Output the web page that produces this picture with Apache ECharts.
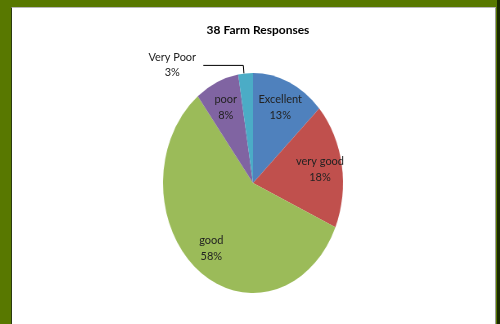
<!DOCTYPE html>
<html><head><meta charset="utf-8">
<script src="https://cdn.jsdelivr.net/npm/echarts@6/dist/echarts.min.js"></script>
<style>
html,body{margin:0;padding:0;width:500px;height:324px;overflow:hidden;background:#587800;}
#panel{position:absolute;left:11px;top:7px;width:483px;height:317px;background:#fff;border-left:1px solid #2a3a10;border-top:1px solid #b8b8b8;border-right:1px solid #9a9a9a;}
#edge{position:absolute;left:497px;top:0;width:3px;height:324px;background:#1a2a00;}
#pie{position:absolute;left:0;top:0;width:500px;height:324px;transform:scaleX(0.818);transform-origin:253px 0;}
#chart{position:absolute;left:0;top:0;width:500px;height:324px;}
</style></head>
<body>
<div id="panel"></div><div id="edge"></div>
<div id="pie"></div>
<div id="chart"></div>
<script>
const titleText = '38 Farm Responses';
const categories = ['Excellent', 'very good', 'good', 'poor', 'Very Poor'];
const counts = [5, 7, 22, 3, 1];
const colors = ['#4f81bd', '#c0504d', '#9bbb59', '#8064a2', '#4bacc6'];

const CX = 253, CY = 183, R = 110, SQUASH = 0.818;
const font = 'Lato, "Open Sans", sans-serif';

// slices (drawn in a horizontally squashed layer, the reference pie is an ellipse)
const pie = echarts.init(document.getElementById('pie'));
pie.setOption({
  animation: false,
  backgroundColor: 'transparent',
  series: [{
    type: 'pie', center: [CX, CY], radius: [0, R],
    startAngle: 90, clockwise: true, silent: true,
    label: {show: false}, labelLine: {show: false},
    data: categories.map((c, i) => ({name: c, value: counts[i], itemStyle: {color: colors[i]}}))
  }]
});

// title and labels (unsquashed text)
const chart = echarts.init(document.getElementById('chart'));
const fmt = p => p.name + '\n' + Math.round(p.percent) + '%';
chart.setOption({
  animation: false,
  backgroundColor: 'transparent',
  title: {
    text: titleText, left: CX, top: 19, textAlign: 'center',
    textStyle: {fontFamily: font, fontWeight: 'bold', fontSize: 12, color: '#000'}
  },
  series: [
    {
      type: 'pie', center: [CX, CY], radius: [0, R],
      startAngle: 90, clockwise: true, avoidLabelOverlap: false, silent: true,
      itemStyle: {color: 'rgba(0,0,0,0)'},
      data: categories.map((c, i) => ({
        name: c, value: counts[i],
        label: {show: i === 4}, labelLine: {show: i === 4}
      })),
      label: {
        position: 'outside',
        formatter: p => '{a|' + p.name + '}\n{a|' + Math.round(p.percent) + '%}',
        rich: {a: {fontFamily: font, fontSize: 11, color: '#222', width: 52, align: 'center', lineHeight: 15}}
      },
      labelLine: {length: 8, length2: 40, lineStyle: {color: '#000', width: 1}}
    },
    {
      type: 'pie', center: [CX, CY], radius: [0, 160],
      startAngle: 90, clockwise: true, avoidLabelOverlap: false, silent: true,
      itemStyle: {color: 'rgba(0,0,0,0)'},
      data: categories.map((c, i) => ({name: c, value: counts[i], label: {show: i !== 4}})),
      label: {
        position: 'inside', formatter: fmt,
        fontFamily: font, fontSize: 11, color: '#222', lineHeight: 16
      },
      labelLine: {show: false},
      labelLayout: p => ({
        x: CX + (p.labelRect.x + p.labelRect.width / 2 - CX) * SQUASH,
        y: p.labelRect.y + p.labelRect.height / 2,
        align: 'center', verticalAlign: 'middle'
      })
    }
  ]
});
</script>
</body></html>
